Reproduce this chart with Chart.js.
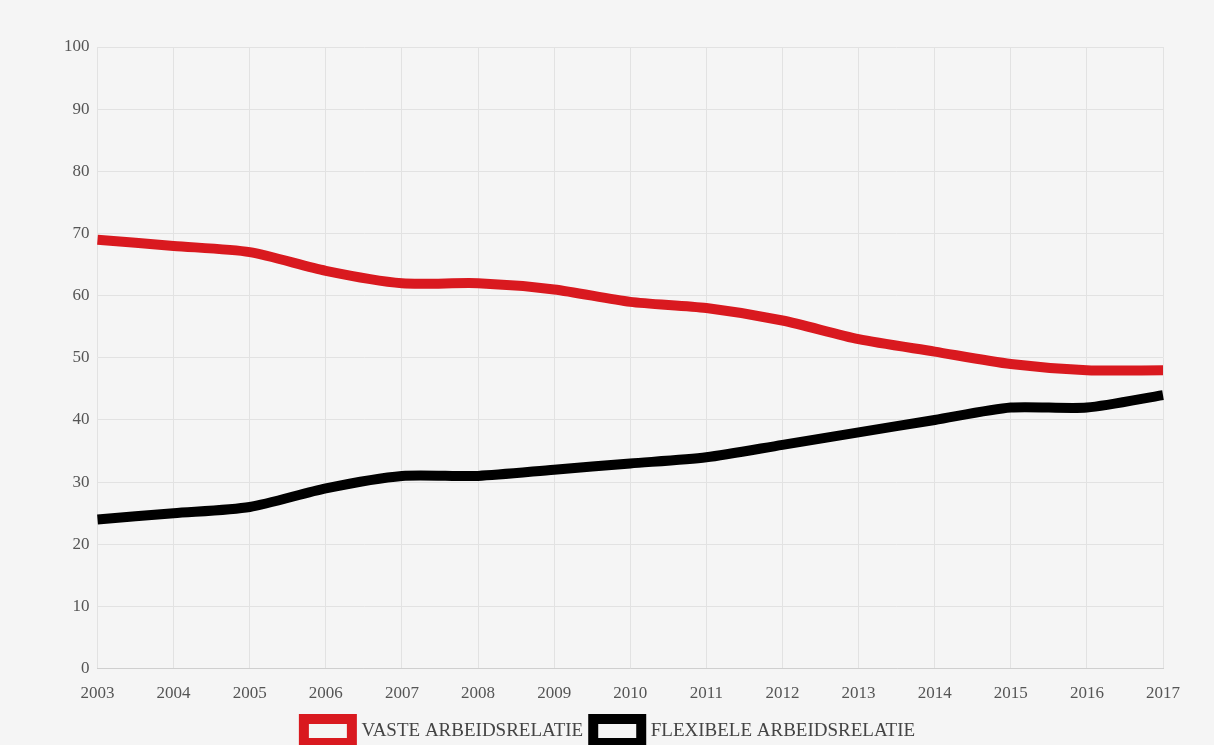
<!DOCTYPE html>
<html>
<head>
<meta charset="utf-8">
<script src="https://cdn.jsdelivr.net/npm/chart.js@4/dist/chart.umd.min.js"></script>
<style>
  html, body { margin: 0; padding: 0; background: #f5f5f5; overflow: hidden; }
  #wrap { width: 1214px; height: 753px; position: relative; }
</style>
</head>
<body>
<div id="wrap"><canvas id="chart"></canvas></div>
<script>
const years = ['2003','2004','2005','2006','2007','2008','2009','2010','2011','2012','2013','2014','2015','2016','2017'];
const vaste = [69, 68, 67, 64, 62, 62, 61, 59, 58, 56, 53, 51, 49, 48, 48];
const flexibel = [24, 25, 26, 29, 31, 31, 32, 33, 34, 36, 38, 40, 42, 42, 44];

const red = '#d9191f';
const black = '#000000';

new Chart(document.getElementById('chart'), {
  type: 'line',
  data: {
    labels: years,
    datasets: [
      {
        label: 'VASTE ARBEIDSRELATIE',
        data: vaste,
        borderColor: red,
        backgroundColor: red,
        borderWidth: 10,
        pointRadius: 0,
        tension: 0.25
      },
      {
        label: 'FLEXIBELE ARBEIDSRELATIE',
        data: flexibel,
        borderColor: black,
        backgroundColor: black,
        borderWidth: 10,
        pointRadius: 0,
        tension: 0.25
      }
    ]
  },
  options: {
    responsive: true,
    maintainAspectRatio: false,
    animation: false,
    layout: { padding: { top: 47, right: 51, left: 56, bottom: 0 } },
    plugins: {
      tooltip: { enabled: false },
      legend: {
        position: 'bottom',
        labels: {
          boxWidth: 48,
          boxHeight: 24,
          padding: 10,
          color: '#444',
          font: { family: 'Liberation Serif', size: 19 },
          generateLabels(chart) {
            return chart.data.datasets.map((ds, i) => ({
              text: ds.label,
              fillStyle: '#f5f5f5',
              strokeStyle: ds.borderColor,
              lineWidth: 10,
              fontColor: '#444',
              datasetIndex: i
            }));
          }
        }
      }
    },
    scales: {
      x: {
        grid: { color: '#e2e2e2', drawTicks: false },
        border: { color: '#cfcfcf' },
        ticks: {
          color: '#555',
          padding: 15,
          maxRotation: 0,
          font: { family: 'Liberation Serif', size: 17 }
        },
        // pull the legend up closer to the year labels
        afterFit(scale) { scale.height -= 10; }
      },
      y: {
        min: 0,
        max: 100,
        grid: { color: '#e2e2e2', drawTicks: false },
        border: { display: false },
        ticks: {
          stepSize: 10,
          color: '#555',
          padding: 8,
          font: { family: 'Liberation Serif', size: 17 }
        }
      }
    }
  }
});
</script>
</body>
</html>
